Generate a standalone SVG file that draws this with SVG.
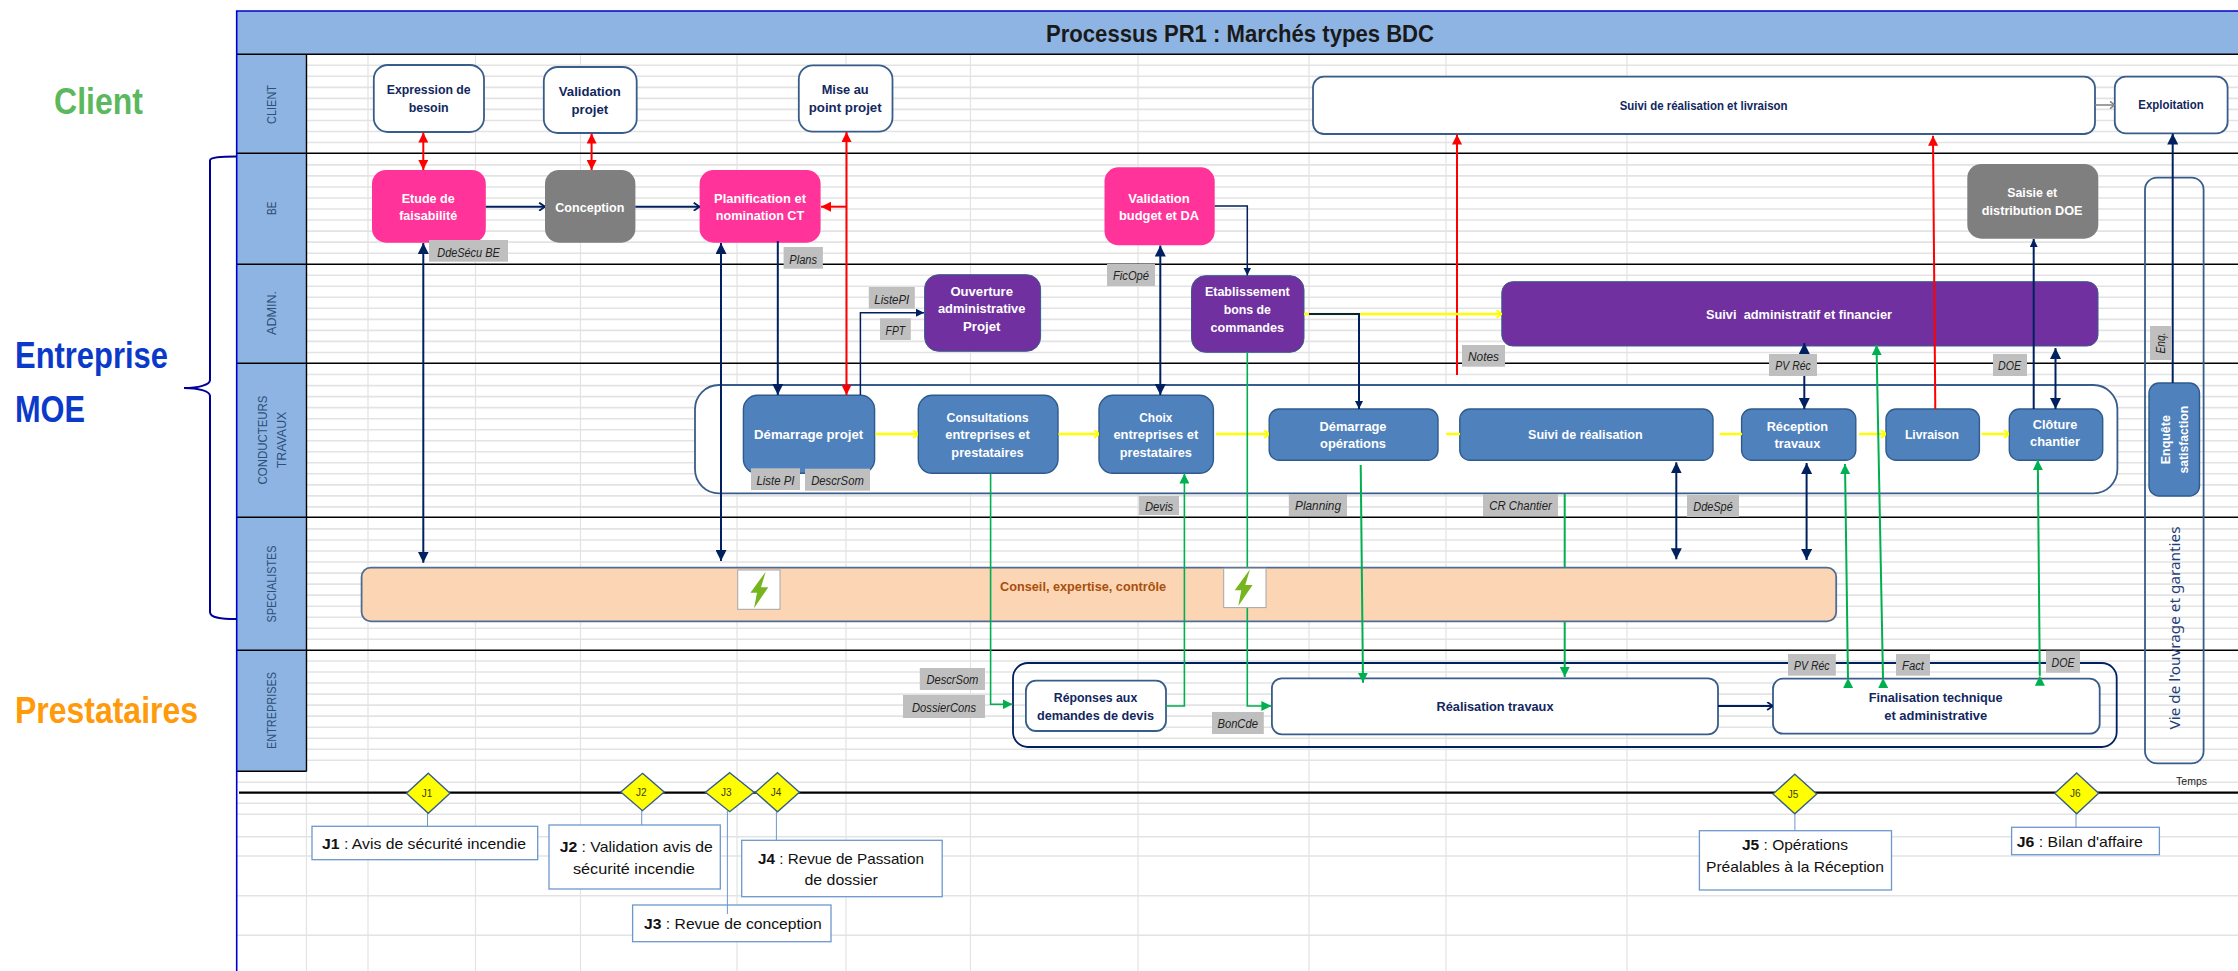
<svg xmlns="http://www.w3.org/2000/svg" width="2238" height="971" viewBox="0 0 2238 971">
<style>
text{font-family:"Liberation Sans",Arial,sans-serif;text-anchor:middle}
.g{stroke:#e3e3e3;stroke-width:1.6;fill:none}
.gv{stroke:#e3e3e3;stroke-width:1.2;fill:none}
.lane{stroke:#000;stroke-width:1.4;fill:none}
.lt{font-size:13px;fill:#2c5078}
.wb{fill:#fff;stroke:#385d8a;stroke-width:1.8}
.pk{fill:#ff3399}
.gr{fill:#7f7f7f}
.pu{fill:#7030a0;stroke:#385d8a;stroke-width:1}
.bl{fill:#4f81bd;stroke:#2f5a8c;stroke-width:1.4}
.tn{font-size:13px;font-weight:bold;fill:#12275e}
.tw{font-size:13px;font-weight:bold;fill:#fff}
.lb{fill:#bfbfbf}
.tl{font-size:12px;font-style:italic;fill:#222}
.c{fill:none;stroke-width:2}
.nv{stroke:#002060}
.rd{stroke:#ff0000}
.gn{stroke:#00b050}
.ye{stroke:#ffff00;stroke-width:2.4}
.cal{fill:#fff;stroke:#6d97cb;stroke-width:1.3}
.st{stroke:#6d97cb;stroke-width:1;fill:none}
.tc{font-size:15px;fill:#111}
.dia{fill:#ffff00;stroke:#385d8a;stroke-width:1.4}
.td{font-size:10px;fill:#3c3c10}
.big{font-size:32px;font-weight:bold}
</style>
<defs>
<marker id="aN" viewBox="0 0 10 10" refX="10" refY="5" markerWidth="11" markerHeight="11" markerUnits="userSpaceOnUse" orient="auto-start-reverse"><path d="M0,0L10,5L0,10z" fill="#002060"/></marker>
<marker id="aNs" viewBox="0 0 10 10" refX="10" refY="5" markerWidth="8" markerHeight="8" markerUnits="userSpaceOnUse" orient="auto-start-reverse"><path d="M0,0L10,5L0,10z" fill="#002060"/></marker>
<marker id="aC" viewBox="0 0 10 10" refX="9.5" refY="5" markerWidth="9" markerHeight="9" markerUnits="userSpaceOnUse" orient="auto"><path d="M3,0.5L9.5,5L3,9.5" fill="none" stroke="#002060" stroke-width="2"/></marker>
<marker id="aR" viewBox="0 0 10 10" refX="10" refY="5" markerWidth="10" markerHeight="10" markerUnits="userSpaceOnUse" orient="auto-start-reverse"><path d="M0,0L10,5L0,10z" fill="#ff0000"/></marker>
<marker id="aG" viewBox="0 0 10 10" refX="10" refY="5" markerWidth="10" markerHeight="10" markerUnits="userSpaceOnUse" orient="auto"><path d="M0,0L10,5L0,10z" fill="#00b050"/></marker>
<marker id="aY" viewBox="0 0 10 10" refX="9.5" refY="5" markerWidth="9" markerHeight="9" markerUnits="userSpaceOnUse" orient="auto"><path d="M4,0.5L9.5,5L4,9.5" fill="none" stroke="#ffff00" stroke-width="2"/></marker>
<marker id="aK" viewBox="0 0 10 10" refX="9.5" refY="5" markerWidth="8" markerHeight="8" markerUnits="userSpaceOnUse" orient="auto"><path d="M4,0.5L9.5,5L4,9.5" fill="none" stroke="#7f7f7f" stroke-width="2"/></marker>
</defs>
<rect width="2238" height="971" fill="#fff"/>

<g id="grid">
<path class="g" d="M306 65.3H2238M306 76.3H2238M306 87.4H2238M306 98.4H2238M306 109.4H2238M306 120.5H2238M306 131.5H2238M306 142.5H2238M306 164.9H2238M306 175.9H2238M306 187H2238M306 198H2238M306 209H2238M306 220H2238M306 231.1H2238M306 242.1H2238M306 253.2H2238M306 275.2H2238M306 286.3H2238M306 297.3H2238M306 308.3H2238M306 319.4H2238M306 330.4H2238M306 341.4H2238M306 352.5H2238M306 374.5H2238M306 385.6H2238M306 396.6H2238M306 407.6H2238M306 418.7H2238M306 429.7H2238M306 440.7H2238M306 451.8H2238M306 462.8H2238M306 473.8H2238M306 484.9H2238M306 495.9H2238M306 506.9H2238M306 528.9H2238M306 540H2238M306 551H2238M306 562H2238M306 573.1H2238M306 584.1H2238M306 595.1H2238M306 606.2H2238M306 617.2H2238M306 628.2H2238M306 639.3H2238M306 661H2238M306 672H2238M306 683H2238M306 694.1H2238M306 705.1H2238M306 716.1H2238M306 727.2H2238M306 738.2H2238M306 749.2H2238M306 760.3H2238M237 782.3H2238M237 803.3H2238M237 814.3H2238M237 836.7H2238M237 856H2238M237 895.7H2238M237 935.3H2238"/>
<path class="gv" d="M306.5 771V971M368 54V971M475.5 54V971M580.5 54V971M737 54V971M846 54V971M970.5 54V971M1138 54V971M1309 54V971M1446 54V971M1627 54V971"/>
</g>

<g id="lanes">
<rect x="237" y="11" width="2001" height="43.5" fill="#8eb4e3"/>
<rect x="237" y="54.5" width="69.5" height="717" fill="#8eb4e3"/>
<path class="lane" d="M237 54.3H2238M237 153.3H2238M237 264.3H2238M237 363.3H2238M237 517.3H2238M237 650.3H2238M237 771.3H306.5M306.5 54.3V771.3"/>
<path fill="none" stroke="#0000cc" stroke-width="1.6" d="M2238 11H236.7V971"/>
<text x="1240" y="42" font-size="24" font-weight="bold" fill="#1a1a1a" textLength="388" lengthAdjust="spacingAndGlyphs">Processus PR1 : Marchés types BDC</text>
<text class="lt" transform="translate(276,104.5) rotate(-90)" textLength="39" lengthAdjust="spacingAndGlyphs">CLIENT</text>
<text class="lt" transform="translate(276,208.3) rotate(-90)" textLength="13.5" lengthAdjust="spacingAndGlyphs">BE</text>
<text class="lt" transform="translate(276,313) rotate(-90)" textLength="44" lengthAdjust="spacingAndGlyphs">ADMIN.</text>
<text class="lt" transform="translate(266.6,440) rotate(-90)" textLength="89" lengthAdjust="spacingAndGlyphs">CONDUCTEURS</text>
<text class="lt" transform="translate(285.8,440) rotate(-90)" textLength="56.7" lengthAdjust="spacingAndGlyphs">TRAVAUX</text>
<text class="lt" transform="translate(276,584) rotate(-90)" textLength="77" lengthAdjust="spacingAndGlyphs">SPECIALISTES</text>
<text class="lt" transform="translate(276,710.5) rotate(-90)" textLength="77" lengthAdjust="spacingAndGlyphs">ENTREPRISES</text>
</g>

<g id="acteurs">
<text class="big" fill="#5cb85c" transform="translate(98.5,114) scale(1,1.15)">Client</text>
<text class="big" fill="#0b39c9" style="text-anchor:start" transform="translate(15,367.7) scale(1,1.15)" textLength="153" lengthAdjust="spacingAndGlyphs">Entreprise</text>
<text class="big" fill="#0b39c9" style="text-anchor:start" transform="translate(15,422) scale(1,1.15)" textLength="70" lengthAdjust="spacingAndGlyphs">MOE</text>
<text class="big" fill="#ff9a0a" style="text-anchor:start" transform="translate(15,722.6) scale(1,1.15)" textLength="183" lengthAdjust="spacingAndGlyphs">Prestataires</text>
<path fill="none" stroke="#000099" stroke-width="2" d="M236 156.5C222 156.5 210 157 210 160.5V380C210 385 198 388 184 388C198 388 210 391 210 396V612C210 618 222 619 236 619"/>
</g>

<g id="containers">
<rect id="cont-ct" x="695" y="385" width="1422.4" height="108.3" rx="24" fill="#fff" stroke="#385d8a" stroke-width="1.8"/>
<rect id="cont-ent" x="1013" y="663" width="1103.7" height="84" rx="15" fill="none" stroke="#002060" stroke-width="1.8"/>
<rect id="vie" x="2145" y="177.7" width="58.6" height="585.6" rx="12" fill="none" stroke="#385d8a" stroke-width="1.8"/>
<text transform="translate(2179.7,628) rotate(-90)" font-size="14" style="font-family:'Noto Sans',sans-serif" fill="#1f3f7a" textLength="203" lengthAdjust="spacingAndGlyphs">Vie de l'ouvrage et garanties</text>
</g>

<g id="n-expression"><rect class="wb" x="373.8" y="65" width="110.2" height="67" rx="14"/><text class="tn" x="428.7" y="94.3" textLength="84" lengthAdjust="spacingAndGlyphs">Expression de</text><text class="tn" x="428.7" y="112.3" textLength="40" lengthAdjust="spacingAndGlyphs">besoin</text></g>
<g id="n-validation-projet"><rect class="wb" x="543.8" y="67" width="92.9" height="66" rx="14"/><text class="tn" x="589.8" y="96" textLength="62" lengthAdjust="spacingAndGlyphs">Validation</text><text class="tn" x="589.8" y="114" textLength="36.6" lengthAdjust="spacingAndGlyphs">projet</text></g>
<g id="n-mise-au-point"><rect class="wb" x="798.8" y="65.3" width="93.7" height="66.4" rx="14"/><text class="tn" x="845.2" y="94.3" textLength="47" lengthAdjust="spacingAndGlyphs">Mise au</text><text class="tn" x="845.2" y="112.3" textLength="73" lengthAdjust="spacingAndGlyphs">point projet</text></g>
<g id="n-suivi-livraison"><rect class="wb" x="1313" y="76.7" width="782" height="57.3" rx="11"/><text class="tn" x="1703.6" y="110.3" textLength="167.8" lengthAdjust="spacingAndGlyphs">Suivi de réalisation et livraison</text></g>
<g id="n-exploitation"><rect class="wb" x="2114.8" y="76.7" width="112.8" height="56.6" rx="11"/><text class="tn" x="2171" y="109.3" textLength="65.3" lengthAdjust="spacingAndGlyphs">Exploitation</text></g>

<g id="n-etude"><rect class="pk" x="372" y="170" width="113.8" height="72.7" rx="14"/><text class="tw" x="428.2" y="203.3" textLength="53" lengthAdjust="spacingAndGlyphs">Etude de</text><text class="tw" x="428.2" y="220" textLength="58" lengthAdjust="spacingAndGlyphs">faisabilité</text></g>
<g id="n-conception"><rect class="gr" x="545" y="170" width="90.4" height="72.7" rx="14"/><text class="tw" x="589.8" y="212.3" textLength="69" lengthAdjust="spacingAndGlyphs">Conception</text></g>
<g id="n-planification"><rect class="pk" x="699.6" y="170" width="121" height="72.7" rx="14"/><text class="tw" x="760" y="203.3" textLength="92" lengthAdjust="spacingAndGlyphs">Planification et</text><text class="tw" x="760" y="220" textLength="88.4" lengthAdjust="spacingAndGlyphs">nomination CT</text></g>
<g id="n-validation-budget"><rect class="pk" x="1104.5" y="167.3" width="110.2" height="78" rx="14"/><text class="tw" x="1159" y="203.3" textLength="61.6" lengthAdjust="spacingAndGlyphs">Validation</text><text class="tw" x="1159" y="220" textLength="80" lengthAdjust="spacingAndGlyphs">budget et DA</text></g>
<g id="n-saisie"><rect class="gr" x="1967.3" y="164" width="131" height="74.7" rx="14"/><text class="tw" x="2032.2" y="197.3" textLength="50" lengthAdjust="spacingAndGlyphs">Saisie et</text><text class="tw" x="2032.2" y="215.3" textLength="100.7" lengthAdjust="spacingAndGlyphs">distribution DOE</text></g>

<g id="n-ouverture"><rect class="pu" x="924.6" y="274.7" width="116" height="76.6" rx="14"/><text class="tw" x="981.7" y="296" textLength="62.5" lengthAdjust="spacingAndGlyphs">Ouverture</text><text class="tw" x="981.7" y="313.3" textLength="87.5" lengthAdjust="spacingAndGlyphs">administrative</text><text class="tw" x="981.7" y="331" textLength="37.5" lengthAdjust="spacingAndGlyphs">Projet</text></g>
<g id="n-etablissement"><rect class="pu" x="1191.5" y="275.7" width="112.5" height="76.6" rx="14"/><text class="tw" x="1247.3" y="296" textLength="84.8" lengthAdjust="spacingAndGlyphs">Etablissement</text><text class="tw" x="1247.3" y="314" textLength="47.3" lengthAdjust="spacingAndGlyphs">bons de</text><text class="tw" x="1247.3" y="332" textLength="73.7" lengthAdjust="spacingAndGlyphs">commandes</text></g>
<g id="n-suivi-admin"><rect class="pu" x="1501.8" y="281.7" width="596.2" height="64.3" rx="11"/><text class="tw" x="1799" y="319" textLength="186" lengthAdjust="spacingAndGlyphs" xml:space="preserve">Suivi  administratif et financier</text></g>

<g id="n-demarrage-projet"><rect class="bl" x="743.4" y="395.3" width="131.2" height="78" rx="14"/><text class="tw" x="808.6" y="439" textLength="109" lengthAdjust="spacingAndGlyphs">Démarrage projet</text></g>
<g id="n-consultations"><rect class="bl" x="918.3" y="395.3" width="139.7" height="78" rx="14"/><text class="tw" x="987.5" y="422" textLength="82" lengthAdjust="spacingAndGlyphs">Consultations</text><text class="tw" x="987.5" y="439.3" textLength="84.4" lengthAdjust="spacingAndGlyphs">entreprises et</text><text class="tw" x="987.5" y="457.3" textLength="72.3" lengthAdjust="spacingAndGlyphs">prestataires</text></g>
<g id="n-choix"><rect class="bl" x="1099" y="395.3" width="114.4" height="78" rx="14"/><text class="tw" x="1155.8" y="422" textLength="33" lengthAdjust="spacingAndGlyphs">Choix</text><text class="tw" x="1155.8" y="439.3" textLength="84.8" lengthAdjust="spacingAndGlyphs">entreprises et</text><text class="tw" x="1155.8" y="457.3" textLength="72.3" lengthAdjust="spacingAndGlyphs">prestataires</text></g>
<g id="n-demarrage-ops"><rect class="bl" x="1269.2" y="409" width="168.8" height="51.3" rx="10"/><text class="tw" x="1353" y="431.3" textLength="67" lengthAdjust="spacingAndGlyphs">Démarrage</text><text class="tw" x="1353" y="448.3" textLength="66" lengthAdjust="spacingAndGlyphs">opérations</text></g>
<g id="n-suivi-realisation"><rect class="bl" x="1459.8" y="409" width="253.2" height="51.3" rx="10"/><text class="tw" x="1585.3" y="439" textLength="114.6" lengthAdjust="spacingAndGlyphs">Suivi de réalisation</text></g>
<g id="n-reception"><rect class="bl" x="1741.6" y="409" width="114.2" height="51.3" rx="10"/><text class="tw" x="1797.4" y="431.3" textLength="61.4" lengthAdjust="spacingAndGlyphs">Réception</text><text class="tw" x="1797.4" y="448.3" textLength="45.8" lengthAdjust="spacingAndGlyphs">travaux</text></g>
<g id="n-livraison"><rect class="bl" x="1886" y="409" width="93.4" height="51.3" rx="10"/><text class="tw" x="1931.9" y="439" textLength="54" lengthAdjust="spacingAndGlyphs">Livraison</text></g>
<g id="n-cloture"><rect class="bl" x="2009.3" y="409" width="93.4" height="51.3" rx="10"/><text class="tw" x="2055" y="429.3" textLength="44.5" lengthAdjust="spacingAndGlyphs">Clôture</text><text class="tw" x="2055" y="446.3" textLength="50" lengthAdjust="spacingAndGlyphs">chantier</text></g>
<g id="n-enquete"><rect class="bl" x="2149" y="383" width="50.5" height="113" rx="10"/><text class="tw" transform="translate(2169.7,439.7) rotate(-90)" textLength="49" lengthAdjust="spacingAndGlyphs">Enquête</text><text class="tw" transform="translate(2187.8,439.7) rotate(-90)" textLength="67.7" lengthAdjust="spacingAndGlyphs">satisfaction</text></g>

<g id="n-conseil"><rect x="361.6" y="567.7" width="1474.6" height="53.6" rx="9" fill="#fcd5b5" stroke="#4f6d94" stroke-width="1.8"/><text x="1083" y="591" font-size="13" font-weight="bold" fill="#a84f0a" textLength="166" lengthAdjust="spacingAndGlyphs">Conseil, expertise, contrôle</text></g>
<g id="n-reponses"><rect class="wb" x="1025.9" y="680.7" width="140.1" height="50.3" rx="10"/><text class="tn" x="1095.5" y="702.3" textLength="83.5" lengthAdjust="spacingAndGlyphs">Réponses aux</text><text class="tn" x="1095.5" y="720" textLength="117" lengthAdjust="spacingAndGlyphs">demandes de devis</text></g>
<g id="n-realisation"><rect class="wb" x="1271.9" y="678.3" width="446.1" height="56" rx="10"/><text class="tn" x="1495" y="711.3" textLength="117" lengthAdjust="spacingAndGlyphs">Réalisation travaux</text></g>
<g id="n-finalisation"><rect class="wb" x="1773" y="678.7" width="326.7" height="55" rx="10"/><text class="tn" x="1935.7" y="702.3" textLength="133.8" lengthAdjust="spacingAndGlyphs">Finalisation technique</text><text class="tn" x="1935.7" y="720" textLength="103" lengthAdjust="spacingAndGlyphs">et administrative</text></g>

<g id="connectors">
<path class="c rd" d="M423.3 132.5V170" marker-start="url(#aR)" marker-end="url(#aR)"/>
<path class="c rd" d="M591.6 133.5V170" marker-start="url(#aR)" marker-end="url(#aR)"/>
<path class="c rd" d="M846.5 132V395" marker-start="url(#aR)" marker-end="url(#aR)"/>
<path class="c rd" d="M846.5 206.7H821" marker-end="url(#aR)"/>
<path class="c rd" d="M1457 375V134.5" marker-end="url(#aR)"/>
<path class="c rd" d="M1935.3 409L1933 135.7" marker-end="url(#aR)"/>
<path class="c nv" d="M485.8 206.7H545" marker-end="url(#aC)"/>
<path class="c nv" d="M635.4 206.7H699.6" marker-end="url(#aC)"/>
<path class="c nv" d="M423.3 243V562.7" marker-start="url(#aN)" marker-end="url(#aN)"/>
<path class="c nv" d="M721 243V561" marker-start="url(#aN)" marker-end="url(#aN)"/>
<path class="c nv" d="M777.8 241V395" marker-end="url(#aN)"/>
<path class="nv" fill="none" stroke-width="1.5" d="M860.4 395V312.7H924" marker-end="url(#aNs)"/>
<path class="nv" fill="none" stroke-width="1.5" d="M1214.7 206H1247.3V275.5" marker-end="url(#aNs)"/>
<path class="c nv" d="M1160.3 245.5V395" marker-start="url(#aN)" marker-end="url(#aN)"/>
<path class="c nv" d="M1676.3 462.3V559.3" marker-start="url(#aN)" marker-end="url(#aN)"/>
<path class="c nv" d="M1806.6 463V560" marker-start="url(#aN)" marker-end="url(#aN)"/>
<path class="c nv" d="M1804.3 343V409" marker-start="url(#aN)" marker-end="url(#aN)"/>
<path class="c nv" d="M2055.5 348V409" marker-start="url(#aN)" marker-end="url(#aN)"/>
<path class="c nv" d="M2033.7 409V239" marker-end="url(#aNs)"/>
<path class="c nv" d="M2172.7 383V133.5" marker-end="url(#aN)"/>
<path class="c nv" d="M1718 706H1773" marker-end="url(#aC)"/>
<path class="c ye" d="M875.5 434H918" marker-end="url(#aY)"/>
<path class="c ye" d="M1058.5 434H1099" marker-end="url(#aY)"/>
<path class="c ye" d="M1216 434H1269" marker-end="url(#aY)"/>
<path class="c ye" d="M1446 434H1460"/>
<path class="c ye" d="M1719.6 434H1742"/>
<path class="c ye" d="M1859 434H1886" marker-end="url(#aY)"/>
<path class="c ye" d="M1981.6 434H2009" marker-end="url(#aY)"/>
<path class="c ye" d="M1304 314H1501.5" marker-end="url(#aY)"/>
<path class="nv" fill="none" stroke-width="2" d="M1309 314H1359V409" marker-end="url(#aNs)"/>
<path class="gn" fill="none" stroke-width="1.6" d="M990.6 473.5V704.3H1012.6" marker-end="url(#aG)"/>
<path class="gn" fill="none" stroke-width="1.6" d="M1166 706H1184.4V473.5" marker-end="url(#aG)"/>
<path class="gn" fill="none" stroke-width="1.6" d="M1247.3 352.5V706H1271.4" marker-end="url(#aG)"/>
<path class="c gn" d="M1360.7 465L1363 682.7" marker-end="url(#aG)"/>
<path class="c gn" d="M1564.7 494V567"/>
<path class="c gn" d="M1564.7 622V677" marker-end="url(#aG)"/>
<path class="c gn" d="M1848 678L1845 464" marker-end="url(#aG)" marker-start="url(#aG)"/>
<path class="c gn" d="M1883 678L1876.5 345" marker-end="url(#aG)" marker-start="url(#aG)"/>
<path class="c gn" d="M2039.8 675.7L2037.8 460" marker-end="url(#aG)" marker-start="url(#aG)"/>
<path fill="none" stroke="#7f7f7f" stroke-width="1.5" d="M2095 105H2114.5" marker-end="url(#aK)"/>
</g>

<g id="labels">
<g id="l-ddesecu"><rect class="lb" x="429" y="240" width="79" height="21.7"/><text class="tl" x="468.5" y="256.5" textLength="62.5" lengthAdjust="spacingAndGlyphs">DdeSécu BE</text></g>
<g id="l-plans"><rect class="lb" x="783.6" y="247" width="39.3" height="21.7"/><text class="tl" x="803.2" y="263.5" textLength="27.7" lengthAdjust="spacingAndGlyphs">Plans</text></g>
<g id="l-listepi"><rect class="lb" x="868.8" y="287" width="46" height="21.7"/><text class="tl" x="891.8" y="303.5" textLength="35" lengthAdjust="spacingAndGlyphs">ListePI</text></g>
<g id="l-fpt"><rect class="lb" x="880" y="318.3" width="30.8" height="21.7"/><text class="tl" x="895.4" y="334.5" textLength="19.6" lengthAdjust="spacingAndGlyphs">FPT</text></g>
<g id="l-liste-pi"><rect class="lb" x="751" y="468.3" width="49" height="21.7"/><text class="tl" x="775.5" y="484.5" textLength="38" lengthAdjust="spacingAndGlyphs">Liste PI</text></g>
<g id="l-descrsom"><rect class="lb" x="805" y="468.7" width="65" height="22"/><text class="tl" x="837.5" y="484.5" textLength="52.7" lengthAdjust="spacingAndGlyphs">DescrSom</text></g>
<g id="l-ficope"><rect class="lb" x="1107" y="264" width="48" height="22"/><text class="tl" x="1131" y="280" textLength="36" lengthAdjust="spacingAndGlyphs">FicOpé</text></g>
<g id="l-notes"><rect class="lb" x="1462" y="345" width="43" height="21.7"/><text class="tl" x="1483.5" y="361" textLength="31" lengthAdjust="spacingAndGlyphs">Notes</text></g>
<g id="l-devis"><rect class="lb" x="1138.8" y="496" width="40.2" height="19"/><text class="tl" x="1159" y="510.5" textLength="28" lengthAdjust="spacingAndGlyphs">Devis</text></g>
<g id="l-planning"><rect class="lb" x="1288.8" y="494" width="58.2" height="22"/><text class="tl" x="1318" y="510" textLength="46" lengthAdjust="spacingAndGlyphs">Planning</text></g>
<g id="l-cr"><rect class="lb" x="1483" y="494" width="75" height="22"/><text class="tl" x="1520.5" y="510" textLength="62.5" lengthAdjust="spacingAndGlyphs">CR Chantier</text></g>
<g id="l-ddespe"><rect class="lb" x="1687" y="495" width="52" height="22"/><text class="tl" x="1713" y="511" textLength="39.5" lengthAdjust="spacingAndGlyphs">DdeSpé</text></g>
<g id="l-pvrec1"><rect class="lb" x="1769" y="354" width="48" height="22"/><text class="tl" x="1793" y="370" textLength="35.5" lengthAdjust="spacingAndGlyphs">PV Réc</text></g>
<g id="l-doe1"><rect class="lb" x="1993" y="354" width="34" height="22"/><text class="tl" x="2009.5" y="370" textLength="23" lengthAdjust="spacingAndGlyphs">DOE</text></g>
<g id="l-enq"><rect class="lb" x="2150" y="326" width="21.4" height="34"/><text class="tl" transform="translate(2165,343) rotate(-90)" textLength="21" lengthAdjust="spacingAndGlyphs">Enq.</text></g>
<g id="l-descrsom2"><rect class="lb" x="919.8" y="668" width="65.2" height="22"/><text class="tl" x="952.4" y="684" textLength="52" lengthAdjust="spacingAndGlyphs">DescrSom</text></g>
<g id="l-dossiercons"><rect class="lb" x="903" y="695" width="82" height="23"/><text class="tl" x="944" y="712" textLength="64" lengthAdjust="spacingAndGlyphs">DossierCons</text></g>
<g id="l-boncde"><rect class="lb" x="1212" y="712" width="51.8" height="22"/><text class="tl" x="1237.7" y="728" textLength="40.5" lengthAdjust="spacingAndGlyphs">BonCde</text></g>
<g id="l-pvrec2"><rect class="lb" x="1788" y="654" width="47.8" height="21.7"/><text class="tl" x="1811.8" y="670" textLength="35.5" lengthAdjust="spacingAndGlyphs">PV Réc</text></g>
<g id="l-fact"><rect class="lb" x="1896" y="654" width="34" height="21.7"/><text class="tl" x="1913" y="670" textLength="22" lengthAdjust="spacingAndGlyphs">Fact</text></g>
<g id="l-doe2"><rect class="lb" x="2046" y="650.7" width="34" height="22"/><text class="tl" x="2063" y="667" textLength="23" lengthAdjust="spacingAndGlyphs">DOE</text></g>
</g>

<g id="eclairs">
<g id="eclair-1"><rect x="737.7" y="570" width="42.3" height="39.3" fill="#fff" stroke="#a6a6a6" stroke-width="1"/><path d="M765.7 571.7L750.4 592.7H757L754 608.3L768.3 587.3H761z" fill="#76b520"/></g>
<g id="eclair-2"><rect x="1223.7" y="568.3" width="42.3" height="39.3" fill="#fff" stroke="#a6a6a6" stroke-width="1"/><path d="M1250 569.3L1234.7 590.3H1241.3L1238.3 606L1252.6 585H1245.3z" fill="#76b520"/></g>
</g>

<g id="timeline">
<path d="M239 792.7H2238" stroke="#000" stroke-width="2.2" fill="none"/>
<text x="2191.6" y="785" font-size="11" fill="#222" textLength="31" lengthAdjust="spacingAndGlyphs">Temps</text>
<g id="j1"><path class="st" d="M427.5 813V835"/><rect class="cal" x="312" y="826.3" width="225.7" height="33.4"/><path class="dia" d="M428.3 773.3L450 793.3L428.3 813.3L406.5 793.3z"/><text class="td" x="427" y="796.7">J1</text><text class="tc" x="424" y="849" textLength="204" lengthAdjust="spacingAndGlyphs"><tspan font-weight="bold">J1</tspan> : Avis de sécurité incendie</text></g>
<g id="j2"><path class="st" d="M641.7 810V834"/><rect class="cal" x="549" y="825" width="171.3" height="64"/><path class="dia" d="M642.5 773.3L664.2 792L642.5 810.7L620.8 792z"/><text class="td" x="641.2" y="795.7">J2</text><text class="tc" x="636.2" y="852.3" textLength="153" lengthAdjust="spacingAndGlyphs"><tspan font-weight="bold">J2</tspan> : Validation avis de</text><text class="tc" x="633.9" y="874" textLength="122" lengthAdjust="spacingAndGlyphs">sécurité incendie</text></g>
<g id="j4"><path class="st" d="M776.4 811V849"/><rect class="cal" x="741.7" y="840.3" width="200.5" height="56.4"/><path class="dia" d="M777.5 772.7L799.4 792.2L777.5 811.7L755.5 792.2z"/><text class="td" x="776" y="795.7">J4</text><text class="tc" x="841" y="864.3" textLength="165.8" lengthAdjust="spacingAndGlyphs"><tspan font-weight="bold">J4</tspan> : Revue de Passation</text><text class="tc" x="841.2" y="885.3" textLength="73.5" lengthAdjust="spacingAndGlyphs">de dossier</text></g>
<g id="j3"><rect class="cal" x="632.6" y="905" width="198.4" height="36.7"/><path class="st" d="M727.4 811V914"/><path class="dia" d="M729.7 772.7L754 792.2L729.7 811.7L705.5 792.2z"/><text class="td" x="726.4" y="795.7">J3</text><text class="tc" x="732.9" y="929" textLength="177.6" lengthAdjust="spacingAndGlyphs"><tspan font-weight="bold">J3</tspan> : Revue de conception</text></g>
<g id="j5"><path class="st" d="M1794.9 813V836"/><rect class="cal" x="1699.4" y="830.7" width="192.1" height="59.3"/><path class="dia" d="M1794.8 774.3L1816.7 794L1794.8 813.7L1773 794z"/><text class="td" x="1793" y="797.7">J5</text><text class="tc" x="1795" y="850" textLength="106" lengthAdjust="spacingAndGlyphs"><tspan font-weight="bold">J5</tspan> : Opérations</text><text class="tc" x="1795" y="871.7" textLength="178" lengthAdjust="spacingAndGlyphs">Préalables à la Réception</text></g>
<g id="j6"><path class="st" d="M2076 813V829"/><rect class="cal" x="2011.6" y="827.3" width="147.8" height="27.4"/><path class="dia" d="M2076.7 773L2098.6 793.3L2076.7 813.7L2054.8 793.3z"/><text class="td" x="2075.4" y="796.7">J6</text><text class="tc" x="2079.8" y="847" textLength="126" lengthAdjust="spacingAndGlyphs"><tspan font-weight="bold">J6</tspan> : Bilan d'affaire</text></g>
</g>
</svg>
